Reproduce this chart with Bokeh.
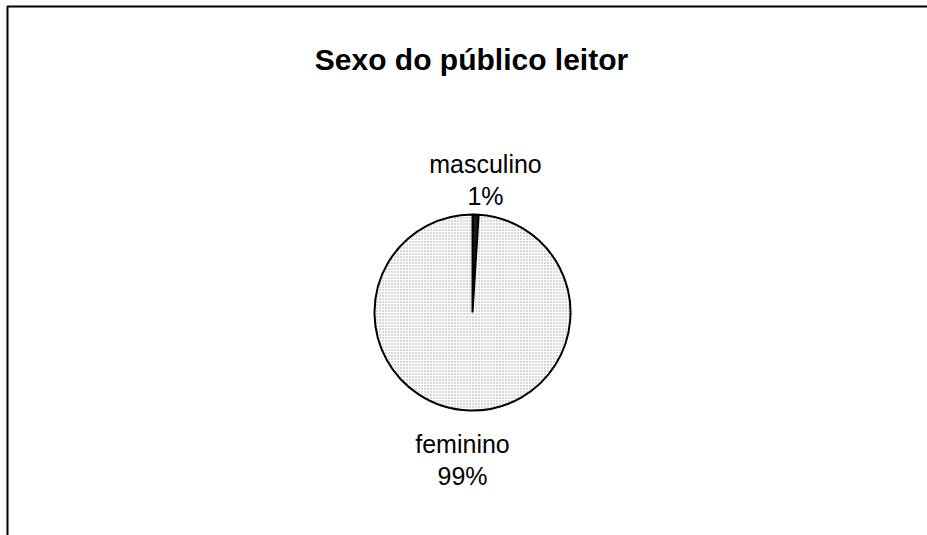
import math
from bokeh.plotting import figure
from bokeh.models import ColumnDataSource, BoxAnnotation, Range1d
from bokeh.core.properties import value
from bokeh.embed import file_html
from bokeh.resources import INLINE

# ---- data ----
title_text = "Sexo do público leitor"
categories = ["masculino", "feminino"]
percent = [1, 99]
pct_labels = ["1%", "99%"]

# ---- layout (pixels, top-left origin) ----
W, H = 927, 535
cx, cy, r = 472, 312, 98
label_anchor = [(485, 163), (462, 443)]   # baseline of first label line
line_gap = 32

fills = ["#1a1a1a", "#ffffff"]
hatches = [" ", "dot"]

p = figure(width=W, height=H, output_backend="svg", toolbar_location=None,
           x_range=Range1d(0, W), y_range=Range1d(0, H), min_border=0,
           outline_line_color=None, background_fill_color="white")
p.axis.visible = False
p.grid.visible = False

def Y(py):
    return H - py

total = sum(percent)
starts, ends = [], []
acc = 0.0
for v in percent:
    a0 = math.pi / 2 - 2 * math.pi * acc / total
    acc += v
    a1 = math.pi / 2 - 2 * math.pi * acc / total
    starts.append(a0)
    ends.append(a1)

src = ColumnDataSource(dict(cat=categories, start=starts, end=ends,
                            fill=fills, hatch=hatches))
p.wedge(x=cx, y=Y(cy), radius=r, start_angle="start", end_angle="end",
        direction="clock", source=src, fill_color="fill",
        hatch_pattern="hatch", hatch_color="#9a9a9a", hatch_scale=3,
        hatch_weight=1, line_color="black", line_width=2)

# frame (left and top edges visible)
p.add_layout(BoxAnnotation(left=7, right=W + 20, top=Y(6), bottom=-20,
                           fill_color=None, fill_alpha=0, line_color="black",
                           line_alpha=1, line_width=2))

# title
p.text(x=[471], y=[Y(59)], text=[title_text], text_align="center",
       text_baseline="alphabetic", text_font=value("Liberation Sans"),
       text_font_size="30px", text_font_style="bold", text_color="black")

# slice labels
lx = [a[0] for a in label_anchor]
ly1 = [Y(a[1]) for a in label_anchor]
ly2 = [Y(a[1] + line_gap) for a in label_anchor]
p.text(x=lx, y=ly1, text=categories, text_align="center",
       text_baseline="alphabetic", text_font=value("Liberation Sans"),
       text_font_size="25px", text_color="black")
p.text(x=lx, y=ly2, text=pct_labels, text_align="center",
       text_baseline="alphabetic", text_font=value("Liberation Sans"),
       text_font_size="25px", text_color="black")

open("out.html", "w").write(file_html(p, INLINE))
